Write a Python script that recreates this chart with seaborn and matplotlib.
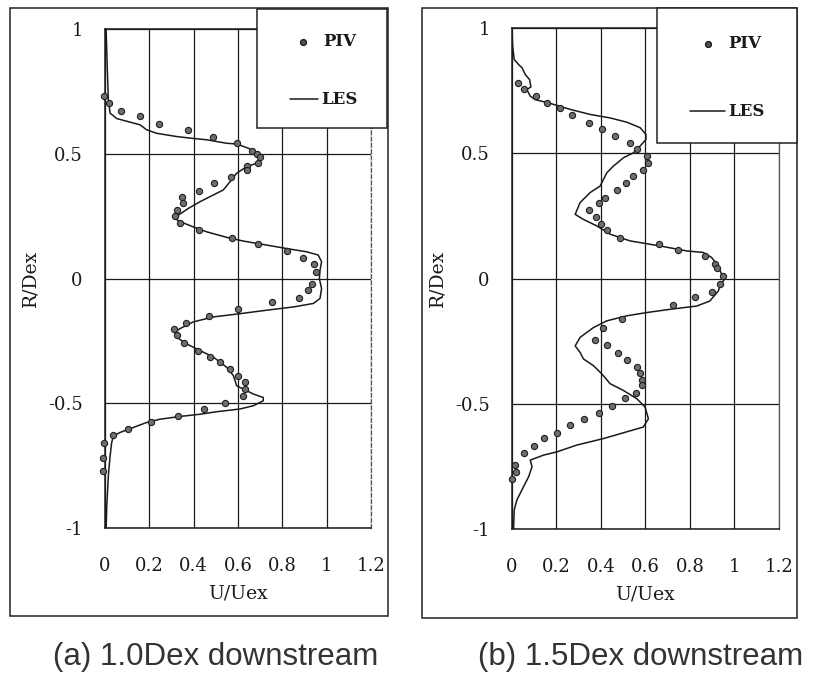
import numpy as np
import pandas as pd
import matplotlib
matplotlib.use("Agg")
import matplotlib.pyplot as plt
from matplotlib.patches import Rectangle
from matplotlib.lines import Line2D
import seaborn as sns

# ---------------- data ----------------
les_a_u = [0.005, 0.01, 0.015, 0.023, 0.053, 0.158, 0.188, 0.233, 0.323, 0.391, 0.459, 0.549, 0.594,
           0.647, 0.692, 0.714, 0.684, 0.639, 0.594, 0.564, 0.534, 0.489, 0.429, 0.376, 0.331, 0.308,
           0.338, 0.398, 0.459, 0.549, 0.624, 0.729, 0.82, 0.91, 0.962, 0.977, 0.97, 0.967,
           0.977, 0.97, 0.94, 0.85, 0.73, 0.609, 0.489, 0.398, 0.338, 0.316, 0.323, 0.368, 0.429,
           0.489, 0.549, 0.579, 0.594, 0.624, 0.669, 0.714, 0.714, 0.669, 0.609, 0.504, 0.429,
           0.338, 0.248, 0.188, 0.128, 0.068, 0.038, 0.03, 0.023, 0.015, 0.008, 0.005]
les_a_r = [1.0, 0.85, 0.716, 0.663, 0.641, 0.616, 0.596, 0.582, 0.569, 0.562, 0.556, 0.542, 0.539,
           0.522, 0.502, 0.489, 0.462, 0.448, 0.422, 0.388, 0.355, 0.335, 0.308, 0.281, 0.254, 0.245,
           0.228, 0.207, 0.187, 0.165, 0.150, 0.134, 0.120, 0.107, 0.094, 0.067, 0.033, 0.0,
           -0.04, -0.08, -0.10, -0.114, -0.127, -0.141, -0.154, -0.174, -0.201, -0.215, -0.235,
           -0.262, -0.289, -0.315, -0.356, -0.389, -0.43, -0.443, -0.463, -0.477, -0.49, -0.51,
           -0.523, -0.534, -0.544, -0.553, -0.564, -0.577, -0.597, -0.617, -0.631, -0.658, -0.711,
           -0.792, -0.913, -1.0]

piv_a_u = [-0.005, 0.02, 0.072, 0.158, 0.244, 0.376, 0.489, 0.594, 0.662, 0.684, 0.699, 0.689,
           0.639, 0.639, 0.568, 0.493, 0.426, 0.349, 0.353, 0.323, 0.316, 0.34, 0.423, 0.571,
           0.689, 0.82, 0.895, 0.943, 0.952, 0.932, 0.917, 0.877, 0.755, 0.598, 0.469, 0.364,
           0.313, 0.323, 0.358, 0.421, 0.474, 0.519, 0.564, 0.598, 0.632, 0.632, 0.621, 0.541,
           0.447, 0.331, 0.206, 0.105, 0.038, -0.005, -0.011, -0.008]
piv_a_r = [0.73, 0.705, 0.673, 0.652, 0.62, 0.596, 0.569, 0.542, 0.513, 0.498, 0.486, 0.462,
           0.451, 0.435, 0.408, 0.382, 0.352, 0.328, 0.301, 0.274, 0.25, 0.224, 0.194, 0.163,
           0.137, 0.111, 0.084, 0.058, 0.027, -0.023, -0.047, -0.078, -0.094, -0.123, -0.15,
           -0.177, -0.204, -0.228, -0.258, -0.289, -0.313, -0.336, -0.362, -0.392, -0.416,
           -0.443, -0.472, -0.499, -0.523, -0.55, -0.577, -0.604, -0.628, -0.66, -0.718, -0.772]

les_b_u = [0.0, 0.003, 0.01, 0.03, 0.045, 0.06, 0.079, 0.085, 0.067, 0.082, 0.105, 0.172, 0.262,
           0.351, 0.441, 0.516, 0.576, 0.602, 0.602, 0.576, 0.546, 0.501, 0.456, 0.426, 0.396,
           0.351, 0.306, 0.284, 0.321, 0.381, 0.441, 0.531, 0.665, 0.785, 0.859, 0.897, 0.927,
           0.942, 0.957, 0.935, 0.927, 0.889, 0.83, 0.71, 0.605, 0.516, 0.426, 0.366, 0.306,
           0.284, 0.306, 0.321, 0.366, 0.404, 0.441, 0.501, 0.561, 0.598, 0.613, 0.59, 0.516,
           0.411, 0.291, 0.202, 0.142, 0.082, 0.09, 0.075, 0.052, 0.022, 0.01, 0.007]
les_b_r = [1.0, 0.927, 0.874, 0.854, 0.841, 0.814, 0.794, 0.765, 0.754, 0.728, 0.714, 0.699, 0.675,
           0.655, 0.641, 0.624, 0.602, 0.575, 0.555, 0.529, 0.502, 0.482, 0.449, 0.422, 0.369,
           0.343, 0.303, 0.256, 0.236, 0.21, 0.177, 0.15, 0.13, 0.11, 0.104, 0.084, 0.05,
           0.017, 0.0, -0.029, -0.05, -0.09, -0.11, -0.123, -0.136, -0.149, -0.169, -0.196, -0.235,
           -0.269, -0.295, -0.321, -0.348, -0.381, -0.42, -0.447, -0.48, -0.513, -0.56, -0.593,
           -0.612, -0.639, -0.665, -0.692, -0.705, -0.725, -0.751, -0.791, -0.831, -0.884, -0.923, -1.0]

piv_b_u = [0.025, 0.052, 0.108, 0.157, 0.214, 0.269, 0.344, 0.404, 0.461, 0.531, 0.561, 0.605,
           0.61, 0.591, 0.546, 0.513, 0.474, 0.419, 0.389, 0.347, 0.379, 0.4, 0.426, 0.486,
           0.662, 0.747, 0.867, 0.912, 0.922, 0.949, 0.935, 0.897, 0.822, 0.722, 0.493, 0.411,
           0.374, 0.426, 0.478, 0.519, 0.561, 0.576, 0.583, 0.586, 0.558, 0.508, 0.448, 0.389,
           0.324, 0.259, 0.202, 0.146, 0.1, 0.055, 0.012, 0.019, 0.0]
piv_b_r = [0.782, 0.757, 0.728, 0.701, 0.68, 0.651, 0.622, 0.595, 0.568, 0.539, 0.515, 0.489,
           0.462, 0.432, 0.409, 0.382, 0.352, 0.323, 0.3, 0.274, 0.247, 0.216, 0.194, 0.163,
           0.137, 0.114, 0.088, 0.057, 0.04, 0.008, -0.023, -0.053, -0.073, -0.107, -0.163,
           -0.196, -0.246, -0.266, -0.299, -0.324, -0.352, -0.378, -0.405, -0.427, -0.458,
           -0.476, -0.509, -0.536, -0.559, -0.586, -0.616, -0.638, -0.668, -0.696, -0.745,
           -0.771, -0.8]

x_ticks = [0, 0.2, 0.4, 0.6, 0.8, 1.0, 1.2]
x_tick_labels = ["0", "0.2", "0.4", "0.6", "0.8", "1", "1.2"]
y_ticks = [-1, -0.5, 0, 0.5, 1]
y_tick_labels = ["-1", "-0.5", "0", "0.5", "1"]
captions = ["(a) 1.0Dex downstream", "(b) 1.5Dex downstream"]
series_labels = ["PIV", "LES"]

# ---------------- style ----------------
sns.set_theme(style="white")
plt.rcParams["font.family"] = ["DejaVu Serif"]

W, H = 829, 677
fig = plt.figure(figsize=(W / 100, H / 100), dpi=100)
fig.patch.set_facecolor("white")
INK = "#1a1a1a"


def fx(px):
    return px / W


def fy(py):
    return 1 - py / H


panels = [
    dict(les_u=les_a_u, les_r=les_a_r, piv_u=piv_a_u, piv_r=piv_a_r,
         ax=(105, 29, 371, 528), frame=(10, 8, 388, 616), legend=(257, 9, 387, 128),
         piv=(303, 42), les=(290, 318, 99), cap_x=216, right_ls=(0, (3, 2))),
    dict(les_u=les_b_u, les_r=les_b_r, piv_u=piv_b_u, piv_r=piv_b_r,
         ax=(512, 28, 779, 529), frame=(422, 8, 797, 618), legend=(657, 8, 797, 143),
         piv=(708, 44), les=(690, 725, 111), cap_x=641, right_ls="-"),
]

for i, p in enumerate(panels):
    x0, y0, x1, y1 = p["ax"]
    # outer frame
    fx0, fy0, fx1, fy1 = p["frame"]
    fig.patches.append(Rectangle((fx(fx0), fy(fy1)), fx(fx1 - fx0), (fy1 - fy0) / H,
                                 transform=fig.transFigure, fill=False, edgecolor="#222222",
                                 linewidth=1.1, zorder=0))

    ax = fig.add_axes([fx(x0), fy(y1), fx(x1 - x0), (y1 - y0) / H])
    ax.set_facecolor("white")

    les_df = pd.DataFrame({"u": p["les_u"], "r": p["les_r"]})
    piv_df = pd.DataFrame({"u": p["piv_u"], "r": p["piv_r"]})

    sns.scatterplot(data=piv_df, x="u", y="r", ax=ax, s=20, color="#6e6e6e",
                    edgecolor="#1e1e1e", linewidth=0.8, zorder=4, legend=False, clip_on=False)
    sns.lineplot(data=les_df, x="u", y="r", ax=ax, sort=False, estimator=None,
                 color=INK, linewidth=1.1, zorder=3, legend=False)

    ax.set_xlim(0, 1.2)
    ax.set_ylim(-1, 1)
    ax.set_xticks(x_ticks)
    ax.set_xticklabels(x_tick_labels)
    ax.set_yticks(y_ticks)
    ax.set_yticklabels(y_tick_labels)
    ax.tick_params(axis="both", length=0, labelsize=13, colors=INK)
    ax.tick_params(axis="x", pad=21)
    ax.tick_params(axis="y", pad=16)
    ax.grid(True, color=INK, linewidth=0.9)
    for side in ["left", "bottom", "top"]:
        ax.spines[side].set_color(INK)
        ax.spines[side].set_linewidth(1.1)
    ax.spines["right"].set_color("#555555")
    ax.spines["right"].set_linewidth(0.9)
    ax.spines["right"].set_linestyle(p["right_ls"])

    ax.set_xlabel("U/Uex", fontsize=13.5, color=INK, labelpad=7)
    ax.set_ylabel("R/Dex", fontsize=13.5, color=INK, labelpad=6)

    # legend box
    lx0, ly0, lx1, ly1 = p["legend"]
    fig.patches.append(Rectangle((fx(lx0), fy(ly1)), fx(lx1 - lx0), (ly1 - ly0) / H,
                                 transform=fig.transFigure, facecolor="white",
                                 edgecolor="#222222", linewidth=1.1, zorder=10))
    mx, my = p["piv"]
    fig.lines.append(Line2D([fx(mx)], [fy(my)], transform=fig.transFigure, marker="o",
                            markersize=4.2, markerfacecolor="#555555",
                            markeredgecolor="#1e1e1e", linestyle="none", zorder=12))
    fig.text(fx(mx + 20), fy(my), series_labels[0], ha="left", va="center",
             fontsize=12, fontweight="bold", color=INK, zorder=12)
    lxa, lxb, ly = p["les"]
    fig.lines.append(Line2D([fx(lxa), fx(lxb)], [fy(ly), fy(ly)], transform=fig.transFigure,
                            color=INK, linewidth=1.1, zorder=12))
    fig.text(fx(lxb + 3), fy(ly), series_labels[1], ha="left", va="center",
             fontsize=12, fontweight="bold", color=INK, zorder=12)

    fig.text(fx(p["cap_x"]), fy(657), captions[i], ha="center", va="center",
             fontsize=22.5, family=["Liberation Sans", "DejaVu Sans"], color="#333333")

fig.savefig("out.png", dpi=100, facecolor="white")
